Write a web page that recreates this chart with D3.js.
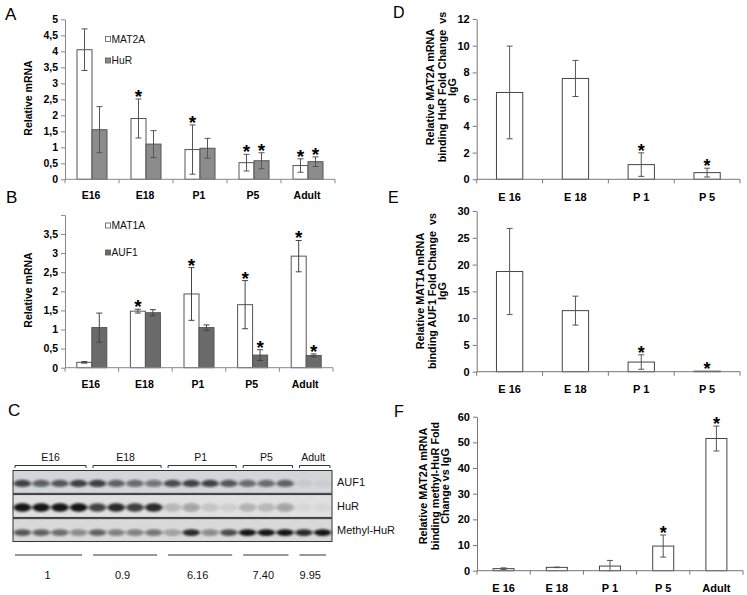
<!DOCTYPE html>
<html><head><meta charset="utf-8">
<script src="https://cdn.jsdelivr.net/npm/d3@7"></script>
<style>body{margin:0;background:#fff} svg{display:block} text{font-family:"Liberation Sans",Arial,sans-serif}</style>
</head><body>
<svg id="c" width="747" height="595"></svg>
<script>
// ---------- DATA ----------
const stages = ["E16","E18","P1","P5","Adult"];
const ticksA = [0,0.5,1,1.5,2,2.5,3,3.5,4,4.5,5];
const mat2aA = [4.05,1.9,0.93,0.52,0.43];
const mat2aAErr = [0.65,0.61,0.77,0.26,0.21];
const mat2aASig = [0,1,1,1,1];
const hurA = [1.55,1.1,0.97,0.58,0.55];
const hurAErr = [0.72,0.42,0.31,0.25,0.15];
const hurASig = [0,0,0,1,1];

const ticksB = [0,0.5,1,1.5,2,2.5,3,3.5,4];
const mat1aB = [0.14,1.48,1.93,1.65,2.92];
const mat1aBErr = [0.02,0.05,0.69,0.63,0.41];
const mat1aBSig = [0,1,1,1,1];
const auf1B = [1.05,1.44,1.05,0.33,0.32];
const auf1BErr = [0.38,0.08,0.07,0.14,0.04];
const auf1BSig = [0,0,0,1,1];

const ripStages4 = ["E 16","E 18","P 1","P 5"];
const ripStages5 = ["E 16","E 18","P 1","P 5","Adult"];
const ticksD = [0,2,4,6,8,10,12];
const valsD = [6.5,7.55,1.1,0.5];
const errD = [3.47,1.35,0.88,0.33];
const sigD = [0,0,1,1];
const ticksE = [0,5,10,15,20,25,30];
const valsE = [18.7,11.4,1.8,0.1];
const errE = [8.05,2.7,1.35,0];
const sigE = [0,0,1,1];
const ticksF = [0,10,20,30,40,50,60];
const valsF = [0.8,1.3,1.8,9.6,51.5];
const errF = [0.3,0.1,2.2,4.3,4.85];
const sigF = [0,0,0,1,1];

// Western blot (panel C)
const lanesPerGroup = [4,4,4,3,2];
const blotRows = ["AUF1","HuR","Methyl-HuR"];
const auf1Bands   = [0.75,0.6,0.65,0.8, 0.8,0.6,0.55,0.5, 0.7,0.75,0.75,0.65, 0.55,0.55,0.6, 0.06,0.04];
const hurBands    = [1,1,1,1, 0.75,0.9,0.8,0.9, 0.18,0.3,0.12,0.08, 0.2,0.18,0.3, 0.04,0.04];
const methylBands = [0.65,0.6,0.55,0.4, 0.6,0.45,0.45,0.5, 0.3,0.9,0.4,0.7, 1,1,1, 0.9,1];
const ratioLabels = ["1","0.9","6.16","7.40","9.95"];

// ---------- DRAW ----------
const svg = d3.select("#c");
const FONT = '"Liberation Sans",Arial,sans-serif';

function panel(o){
  const g = svg.append("g");
  const x = d3.scaleBand().domain(o.cats).range([o.left,o.right]);
  const y = d3.scaleLinear().domain([0,o.max]).range([o.bottom,o.top]);
  const ns = o.series.length;
  const bw = x.bandwidth();
  const sub = d3.scaleBand().domain(d3.range(ns)).range([(bw-o.groupW)/2,(bw+o.groupW)/2]);
  o.series.forEach((s,si)=>{
    o.cats.forEach((c,i)=>{
      const bx = x(c)+sub(si), w = sub.bandwidth();
      g.append("rect").attr("x",bx).attr("y",y(s.vals[i])).attr("width",w)
        .attr("height",y(0)-y(s.vals[i])).attr("fill",s.fill)
        .attr("stroke",o.barStroke).attr("stroke-width",1);
      const cx = bx+w/2;
      const top = y(s.vals[i]+s.errs[i]);
      if(s.errs[i]>0){
        const bot = y(Math.max(0,s.vals[i]-s.errs[i]));
        g.append("line").attr("x1",cx).attr("x2",cx).attr("y1",top).attr("y2",bot).attr("stroke",o.errColor).attr("stroke-width",1);
        [top,bot].forEach(yy=>g.append("line").attr("x1",cx-3).attr("x2",cx+3).attr("y1",yy).attr("y2",yy).attr("stroke",o.errColor).attr("stroke-width",1));
      }
      if(s.sig[i]){
        g.append("text").attr("x",cx).attr("y",top+o.starDy).attr("text-anchor","middle")
          .attr("font-size",o.starSize).attr("font-weight","bold").attr("fill","#000").text("*");
      }
    });
  });
  // y axis
  const ya = d3.axisLeft(y).tickValues(o.ticks).tickSize(4).tickSizeOuter(0).tickPadding(3)
     .tickFormat(o.fmt);
  const ag = g.append("g").attr("transform",`translate(${o.left},0)`).call(ya);
  ag.selectAll("path,line").attr("stroke",o.axisColor);
  ag.selectAll("text").attr("font-family",FONT).attr("font-size",o.tickSize).attr("font-weight","bold").attr("fill","#000");
  // x axis
  g.append("line").attr("x1",o.left).attr("x2",o.right).attr("y1",y(0)).attr("y2",y(0)).attr("stroke",o.axisColor);
  d3.range(o.cats.length+1).forEach(i=>{
    const xx = o.left + i*x.step();
    g.append("line").attr("x1",xx).attr("x2",xx).attr("y1",y(0)).attr("y2",y(0)+4).attr("stroke",o.axisColor);
  });
  o.cats.forEach(c=>{
    g.append("text").attr("x",x(c)+bw/2+o.labelDx).attr("y",o.labelY).attr("text-anchor","middle")
      .attr("font-size",o.catSize).attr("font-weight","bold").text(c);
  });
  // y label
  const lines = o.ylabel;
  lines.forEach((t,i)=>{
    g.append("text").attr("transform",`translate(${o.ylx[i]},${o.yly}) rotate(-90)`)
      .attr("text-anchor","middle").attr("dominant-baseline","central")
      .attr("font-size",o.ylSize).attr("font-weight","bold").attr("xml:space","preserve").text(t);
  });
  return {x,y,g};
}
const comma = d=> String(d).replace(".",",");

panel({cats:stages,left:65,right:335,top:19.3,bottom:179.3,max:5,ticks:ticksA,fmt:comma,
  groupW:30,barStroke:"#555",errColor:"#555",axisColor:"#888",tickSize:10.5,catSize:10.5,labelY:199,labelDx:-1,
  starSize:19,starDy:4,ylabel:["Relative mRNA"],ylx:[28],yly:98,ylSize:10.5,
  series:[{vals:mat2aA,errs:mat2aAErr,sig:mat2aASig,fill:"#fff"},{vals:hurA,errs:hurAErr,sig:hurASig,fill:"#8c8c8c"}]});

panel({cats:stages,left:65,right:333,top:214.9,bottom:367.7,max:4,ticks:ticksB,fmt:d=>d===4?"":comma(d),
  groupW:30,barStroke:"#555",errColor:"#444",axisColor:"#888",tickSize:10.5,catSize:10.5,labelY:388,labelDx:-1,
  starSize:19,starDy:4,ylabel:["Relative mRNA"],ylx:[28],yly:290,ylSize:10.5,
  series:[{vals:mat1aB,errs:mat1aBErr,sig:mat1aBSig,fill:"#fff"},{vals:auf1B,errs:auf1BErr,sig:auf1BSig,fill:"#6a6a6a"}]});

const ripSeries = (v,e,s)=>[{vals:v,errs:e,sig:s,fill:"#fff"}];
panel({cats:ripStages4,left:476.7,right:740,top:19,bottom:179.3,max:12,ticks:ticksD,fmt:d=>d,
  groupW:26.3,barStroke:"#444",errColor:"#555",axisColor:"#777",tickSize:11,catSize:11,labelY:200.5,labelDx:0,
  starSize:18,starDy:4,ylabel:["Relative MAT2A mRNA","binding HuR Fold Change  vs","IgG"],ylx:[430,441.5,452],yly:87,ylSize:10.8,
  series:ripSeries(valsD,errD,sigD)});

panel({cats:ripStages4,left:476.7,right:740,top:211,bottom:371.7,max:30,ticks:ticksE,fmt:d=>d,
  groupW:26.3,barStroke:"#444",errColor:"#555",axisColor:"#777",tickSize:11,catSize:11,labelY:393,labelDx:0,
  starSize:18,starDy:4,ylabel:["Relative MAT1A mRNA","binding AUF1 Fold Change  vs","IgG"],ylx:[420,431.5,442],yly:291,ylSize:10.8,
  series:ripSeries(valsE,errE,sigE)});

panel({cats:ripStages5,left:477,right:743,top:416.7,bottom:570.7,max:60,ticks:ticksF,fmt:d=>d,
  groupW:21,barStroke:"#444",errColor:"#555",axisColor:"#777",tickSize:11,catSize:11,labelY:592,labelDx:0,
  starSize:18,starDy:4,ylabel:["Relative MAT2A mRNA","binding methyl-HuR Fold","Change vs IgG"],ylx:[423,434.5,445],yly:486,ylSize:10.8,
  series:ripSeries(valsF,errF,sigF)});

// panel letters
[["A",5,20,17],["B",6,203,17],["C",8,416,17],["D",393,18,16],["E",388,203,16],["F",394,417,16]].forEach(([t,x,y,s])=>{
  svg.append("text").attr("x",x).attr("y",y).attr("font-size",s).text(t);
});

// legends
[[ "MAT2A","#fff",36.5,42.5],["HuR","#8c8c8c",58,64],["MAT1A","#fff",223,228.5],["AUF1","#6a6a6a",250,255.5]].forEach(([t,f,by,ty])=>{
  svg.append("rect").attr("x",105.5).attr("y",by).attr("width",5).attr("height",5).attr("fill",f).attr("stroke","#555").attr("stroke-width",0.8);
  svg.append("text").attr("x",111.5).attr("y",ty).attr("font-size",10.3).attr("fill","#111").text(t);
});

// ---------- Panel C : western blot ----------
const defs = svg.append("defs");
defs.append("filter").attr("id","blur").attr("x","-50%").attr("y","-80%").attr("width","200%").attr("height","260%")
  .append("feGaussianBlur").attr("stdDeviation","1.5 1.1");
const nLanes = d3.sum(lanesPerGroup);
const lane = d3.scaleBand().domain(d3.range(nLanes)).range([13,332]);
const row = d3.scaleBand().domain(blotRows).range([470.5,541.5]).paddingInner(0.05);
const rowBg = ["#d3d6d9","#e0e0e0","#d9d9d9"];
const rowBands = [auf1Bands,hurBands,methylBands];
const bandRy = [3.6,4.2,3.4];
const bandDy = [1.5,1.5,2.5];
const cg = svg.append("g");
blotRows.forEach((r,ri)=>{
  cg.append("rect").attr("x",lane.range()[0]).attr("y",row(r)).attr("width",lane.range()[1]-lane.range()[0])
    .attr("height",row.bandwidth()).attr("fill",rowBg[ri]).attr("stroke","#333").attr("stroke-width",1);
  const bg = cg.append("g").attr("filter","url(#blur)");
  rowBands[ri].forEach((v,li)=>{
    bg.append("ellipse").attr("cx",lane(li)+lane.bandwidth()/2).attr("cy",row(r)+row.bandwidth()/2+bandDy[ri])
      .attr("rx",lane.bandwidth()*0.47).attr("ry",bandRy[ri]).attr("fill","#151515").attr("opacity",v);
  });
  cg.append("text").attr("x",337).attr("y",row(r)+row.bandwidth()/2+4).attr("font-size",11).attr("fill","#111").text(r);
});
let start = 0;
lanesPerGroup.forEach((n,gi)=>{
  const x0 = lane(start), x1 = lane(start+n-1)+lane.bandwidth();
  const bx0 = x0+ (gi===0?2:5), bx1 = x1-2;
  cg.append("path").attr("d",`M${bx0},468 V465.5 H${bx1} V468`).attr("fill","none").attr("stroke","#333").attr("stroke-width",1);
  cg.append("text").attr("x",(x0+x1)/2).attr("y",460.5).attr("text-anchor","middle").attr("font-size",10.5).attr("fill","#111").text(stages[gi]);
  cg.append("line").attr("x1",bx0).attr("x2",bx1-4).attr("y1",555).attr("y2",555).attr("stroke","#333");
  cg.append("text").attr("x",(x0+x1)/2-3).attr("y",579).attr("text-anchor","middle").attr("font-size",11).attr("fill","#111").text(ratioLabels[gi]);
  start += n;
});
</script>
</body></html>
